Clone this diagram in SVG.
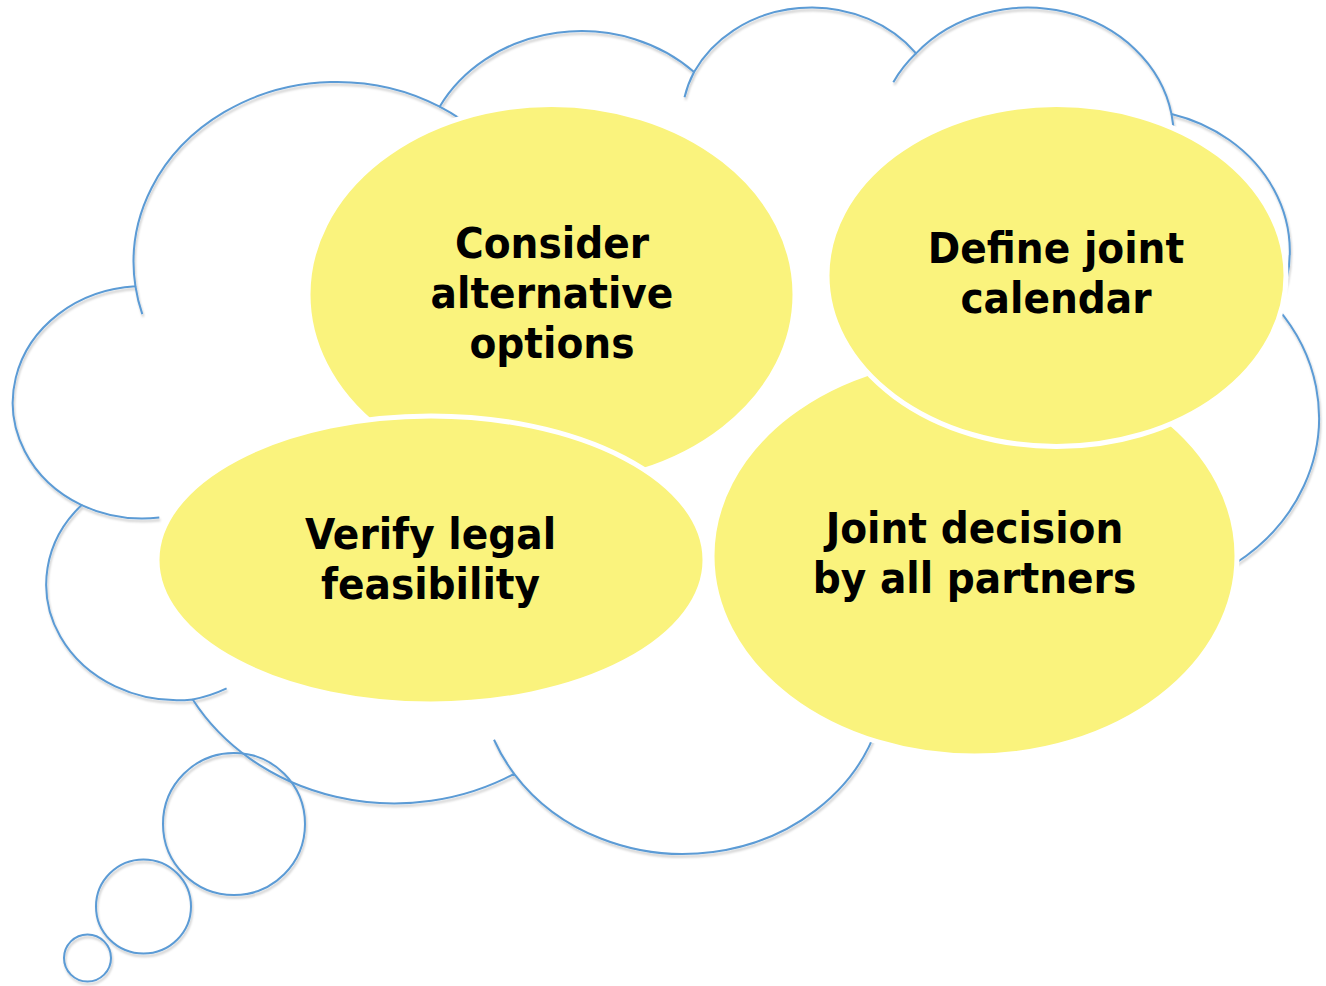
<svg xmlns="http://www.w3.org/2000/svg" width="1326" height="986" viewBox="0 0 1326 986">
  <defs>
    <filter id="shadow" x="-5%" y="-5%" width="110%" height="110%">
      <feDropShadow dx="1" dy="2.5" stdDeviation="1.3" flood-color="#000000" flood-opacity="0.22"/>
    </filter>
    <style>
      .outline { fill: none; stroke: #5B9BD5; stroke-width: 2; stroke-linejoin: round; }
      .bubble { fill: #FAF37D; stroke: #FFFFFF; stroke-width: 5; }
      .label { font-family: 'DejaVu Sans Condensed', 'DejaVu Sans', sans-serif; font-stretch: condensed; font-weight: bold; font-size: 43.5px; fill: #000000; text-anchor: middle; }
    </style>
  </defs>
  <rect width="1326" height="986" fill="#FFFFFF"/>

  <g id="cloud-callout" filter="url(#shadow)">
    <path class="outline" d="M135.44,286.28 A203.27,180.01 0 0 1 439.63,106.70 A160.53,142.35 0 0 1 694.04,72.00 A131.39,116.45 0 0 1 916.08,53.32 A146.20,129.18 0 0 1 1171.49,113.95 A160.53,142.46 0 0 1 1276.85,307.56 A203.93,180.60 0 0 1 1143.95,596.33 A174.13,154.10 0 0 1 877.62,725.80 A203.24,180.50 0 0 1 514.13,773.82 A232.38,206.52 0 0 1 192.74,699.49 A131.24,115.92 0 0 1 81.68,505.10 A130.79,116.45 0 0 1 135.44,286.28 Z"/>
    <path class="outline" d="M142.28,314.08 A203.27,180.01 0 0 1 135.44,286.28 M439.63,106.70 A203.27,180.01 0 0 1 478.75,133.12 M684.52,97.26 A131.39,116.45 0 0 1 694.04,72.00 M893.33,82.21 A146.20,129.18 0 0 1 916.08,53.32 M1171.49,113.95 A146.20,129.18 0 0 1 1173.8,138.7 M1276.85,307.56 A160.53,142.46 0 0 1 1233.25,359.98 M1045.37,454.42 A174.13,154.10 0 0 1 1143.95,596.33 M885.77,685.5 A203.24,180.50 0 0 1 877.62,725.8 M514.13,773.82 A203.24,180.50 0 0 1 494.02,739.72 M226.6,688.4 A131.24,115.92 0 0 1 192.74,699.49 M159.31,517.57 A130.79,116.45 0 0 1 81.68,505.10"/>
    <g id="thought-tail">
      <ellipse class="outline" cx="234" cy="824" rx="71" ry="71"/>
      <ellipse class="outline" cx="143.5" cy="906.5" rx="47.5" ry="47"/>
      <ellipse class="outline" cx="87.5" cy="958" rx="23.5" ry="23.5"/>
    </g>
  </g>

  <g id="node-consider">
    <ellipse class="bubble" cx="551.5" cy="294.5" rx="243.5" ry="190"/>
    <text class="label" x="552" y="258">Consider</text>
    <text class="label" x="552" y="308">alternative</text>
    <text class="label" x="552" y="358">options</text>
  </g>

  <g id="node-joint-decision">
    <ellipse class="bubble" cx="974.5" cy="556" rx="262.5" ry="200"/>
    <text class="label" x="974.5" y="543">Joint decision</text>
    <text class="label" x="974.5" y="593">by all partners</text>
  </g>

  <g id="node-define-calendar">
    <ellipse class="bubble" cx="1056.5" cy="275.5" rx="229.5" ry="171"/>
    <text class="label" x="1056" y="263">Define joint</text>
    <text class="label" x="1056" y="313">calendar</text>
  </g>

  <g id="node-verify-legal">
    <ellipse class="bubble" cx="431" cy="560" rx="274" ry="144"/>
    <text class="label" x="430.5" y="549">Verify legal</text>
    <text class="label" x="430.5" y="599">feasibility</text>
  </g>
</svg>
